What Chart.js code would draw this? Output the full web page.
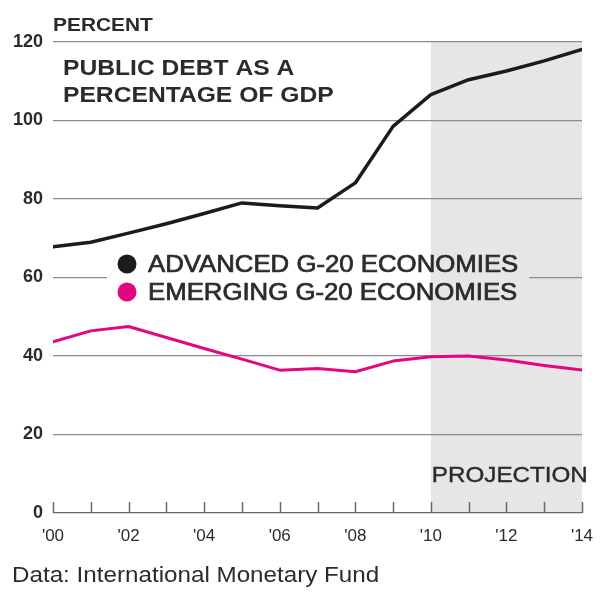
<!DOCTYPE html>
<html>
<head>
<meta charset="utf-8">
<script src="https://cdn.jsdelivr.net/npm/chart.js@4"></script>
<style>
  html, body { margin: 0; padding: 0; background: #fff; }
  #wrap { width: 603px; height: 592px; position: relative; }
</style>
</head>
<body>
<div id="wrap"><canvas id="debtChart" width="603" height="592"></canvas></div>
<script>
// Public debt as % of GDP, G-20 economies (IMF)
const years = [2000, 2001, 2002, 2003, 2004, 2005, 2006, 2007, 2008, 2009, 2010, 2011, 2012, 2013, 2014];
const advanced = [67.8, 69.0, 71.3, 73.7, 76.3, 79.0, 78.3, 77.7, 84.1, 98.5, 106.6, 110.4, 112.6, 115.2, 118.1];
const emerging = [43.6, 46.4, 47.5, 44.7, 41.9, 39.2, 36.4, 36.8, 36.0, 38.7, 39.8, 40.0, 39.0, 37.6, 36.4];

const yTicks = [0, 20, 40, 60, 80, 100, 120];
const xTickYears = [2000, 2002, 2004, 2006, 2008, 2010, 2012, 2014];
const xTickLabels = ["'00", "'02", "'04", "'06", "'08", "'10", "'12", "'14"];
const projectionStart = 2010;

const seriesNames = ["ADVANCED G-20 ECONOMIES", "EMERGING G-20 ECONOMIES"];
const seriesColors = ["#1c1c1c", "#e4067f"];

const FONT = "'Liberation Sans', Arial, sans-serif";
const TEXT = "#2b2b2b";
const SHADE = "#e6e6e6";
const SX = 1.1; // horizontal stretch for the display type

function stretchText(ctx, text, x, y, font, sx, heavy) {
  ctx.save();
  ctx.font = font;
  ctx.fillStyle = TEXT;
  ctx.textBaseline = "alphabetic";
  ctx.textAlign = "left";
  ctx.translate(x, y);
  ctx.scale(sx, 1);
  ctx.fillText(text, 0, 0);
  if (heavy) {
    // a touch of stroke to get a medium weight
    ctx.strokeStyle = TEXT;
    ctx.lineWidth = heavy;
    ctx.strokeText(text, 0, 0);
  }
  const w = ctx.measureText(text).width * sx;
  ctx.restore();
  return w;
}

function legendWidth(ctx) {
  ctx.save();
  ctx.font = "23px " + FONT;
  const w = Math.max(...seriesNames.map(n => ctx.measureText(n).width)) * 1.12;
  ctx.restore();
  return w;
}

// Grey band behind the projected years
const projectionBand = {
  id: "projectionBand",
  beforeDraw(chart) {
    const { ctx, chartArea, scales } = chart;
    const x0 = scales.x.getPixelForValue(projectionStart);
    ctx.save();
    ctx.fillStyle = SHADE;
    ctx.fillRect(x0, chartArea.top, chartArea.right - x0, chartArea.bottom - chartArea.top);
    ctx.restore();
  }
};

// Legend sits on the 60 line, so the gridline is cut out behind it
const legendGap = {
  id: "legendGap",
  beforeDatasetsDraw(chart) {
    const { ctx, scales } = chart;
    const y = scales.y.getPixelForValue(60);
    const xp = scales.x.getPixelForValue(projectionStart);
    const start = 107;
    const end = 148 + legendWidth(ctx) + 11;
    ctx.save();
    ctx.fillStyle = "#fff";
    ctx.fillRect(start, y - 2, Math.min(end, xp) - start, 4);
    if (end > xp) {
      ctx.fillStyle = SHADE;
      ctx.fillRect(xp, y - 2, end - xp, 4);
    }
    ctx.restore();
  }
};

// Small upward ticks on the baseline for every year
const yearTicks = {
  id: "yearTicks",
  afterDatasetsDraw(chart) {
    const { ctx, chartArea, scales } = chart;
    ctx.save();
    ctx.strokeStyle = "#666";
    ctx.lineWidth = 1.5;
    years.forEach(yr => {
      const x = Math.round(scales.x.getPixelForValue(yr)) + 0.5;
      ctx.beginPath();
      ctx.moveTo(x, chartArea.bottom);
      ctx.lineTo(x, chartArea.bottom - 11);
      ctx.stroke();
    });
    ctx.restore();
  }
};

// Headline, unit, legend, projection note and source
const annotations = {
  id: "annotations",
  afterDraw(chart) {
    const { ctx, scales } = chart;
    stretchText(ctx, "PERCENT", 53, 31, "bold 19px " + FONT, SX);
    stretchText(ctx, "PUBLIC DEBT AS A", 63, 75, "bold 22px " + FONT, 1.12);
    stretchText(ctx, "PERCENTAGE OF GDP", 63, 102, "bold 22px " + FONT, 1.12);

    const rows = [264, 292];
    seriesNames.forEach((name, i) => {
      ctx.save();
      ctx.fillStyle = seriesColors[i];
      ctx.beginPath();
      ctx.arc(127, rows[i], 9.5, 0, Math.PI * 2);
      ctx.fill();
      ctx.restore();
      stretchText(ctx, name, 148, rows[i] + 8, "23px " + FONT, 1.12, 0.7);
    });

    const xp = scales.x.getPixelForValue(projectionStart);
    stretchText(ctx, "PROJECTION", xp + 1, 482, "22px " + FONT, SX, 0.4);
    stretchText(ctx, "Data: International Monetary Fund", 12, 582, "22px " + FONT, SX);
  }
};

const ctx = document.getElementById("debtChart").getContext("2d");
new Chart(ctx, {
  type: "line",
  data: {
    datasets: [
      {
        label: seriesNames[0],
        data: years.map((yr, i) => ({ x: yr, y: advanced[i] })),
        borderColor: seriesColors[0],
        borderWidth: 3.5,
        pointRadius: 0,
        tension: 0,
        borderJoinStyle: "round",
        borderCapStyle: "round"
      },
      {
        label: seriesNames[1],
        data: years.map((yr, i) => ({ x: yr, y: emerging[i] })),
        borderColor: seriesColors[1],
        borderWidth: 3,
        pointRadius: 0,
        tension: 0,
        borderJoinStyle: "round",
        borderCapStyle: "round"
      }
    ]
  },
  options: {
    responsive: false,
    animation: false,
    devicePixelRatio: 1,
    layout: { padding: { top: 42, right: 21, bottom: 0, left: 0 } },
    plugins: {
      legend: { display: false },
      tooltip: { enabled: false }
    },
    scales: {
      x: {
        type: "linear",
        min: years[0],
        max: years[years.length - 1],
        border: { display: false },
        grid: { display: false, drawTicks: false },
        ticks: {
          stepSize: 1,
          autoSkip: false,
          maxRotation: 0,
          padding: 13,
          color: TEXT,
          font: { family: FONT, size: 17 },
          callback: v => {
            const i = xTickYears.indexOf(v);
            return i >= 0 ? xTickLabels[i] : "";
          }
        },
        afterFit: scale => {
          scale.height = 79;
          scale.paddingLeft = 0;
          scale.paddingRight = 0;
        }
      },
      y: {
        min: 0,
        max: 120,
        border: { display: false },
        grid: {
          drawTicks: false,
          lineWidth: 1.2,
          color: c => (c.tick && c.tick.value === 0 ? "#666" : "#8c8c8c")
        },
        ticks: {
          stepSize: 20,
          padding: 10,
          color: TEXT,
          font: { family: FONT, size: 18, weight: "bold" },
          callback: v => (yTicks.includes(v) ? String(v) : "")
        },
        afterFit: scale => { scale.width = 53; }
      }
    }
  },
  plugins: [projectionBand, legendGap, yearTicks, annotations]
});
</script>
</body>
</html>
